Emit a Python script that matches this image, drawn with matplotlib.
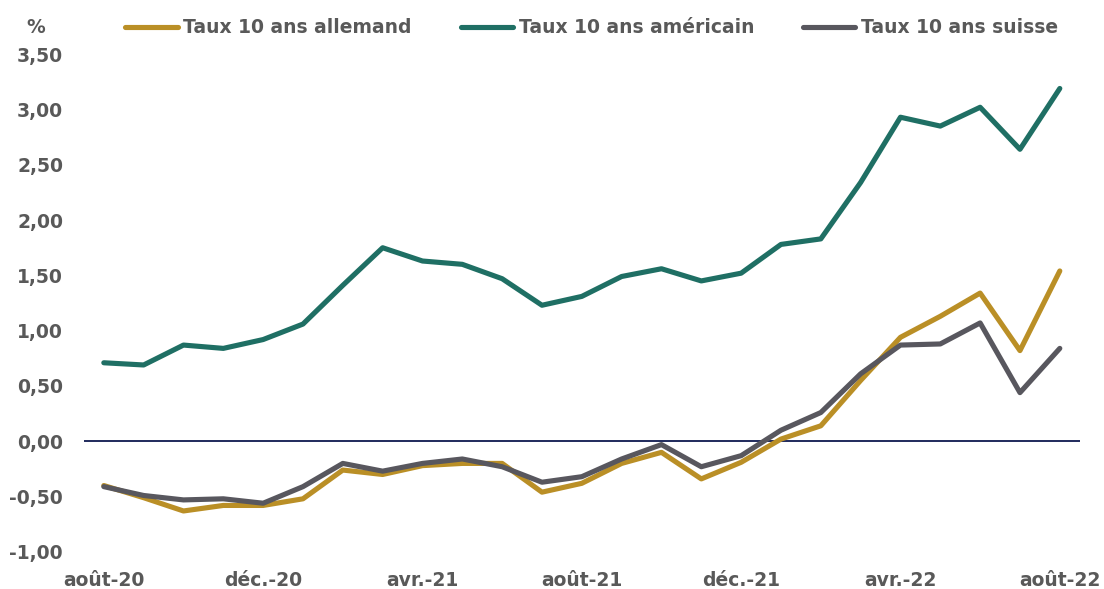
import matplotlib.pyplot as plt
from matplotlib.ticker import FuncFormatter

mois = ["août-20", "sept.-20", "oct.-20", "nov.-20", "déc.-20", "janv.-21", "févr.-21",
        "mars-21", "avr.-21", "mai-21", "juin-21", "juil.-21", "août-21", "sept.-21",
        "oct.-21", "nov.-21", "déc.-21", "janv.-22", "févr.-22", "mars-22", "avr.-22",
        "mai-22", "juin-22", "juil.-22", "août-22"]

taux_allemand = [-0.40, -0.51, -0.63, -0.58, -0.58, -0.52, -0.26, -0.30, -0.22, -0.20,
                 -0.20, -0.46, -0.38, -0.20, -0.10, -0.34, -0.19, 0.02, 0.14, 0.55,
                 0.94, 1.13, 1.34, 0.82, 1.54]
taux_americain = [0.71, 0.69, 0.87, 0.84, 0.92, 1.06, 1.41, 1.75, 1.63, 1.60,
                  1.47, 1.23, 1.31, 1.49, 1.56, 1.45, 1.52, 1.78, 1.83, 2.34,
                  2.93, 2.85, 3.02, 2.64, 3.19]
taux_suisse = [-0.41, -0.49, -0.53, -0.52, -0.56, -0.41, -0.20, -0.27, -0.20, -0.16,
               -0.23, -0.37, -0.32, -0.16, -0.03, -0.23, -0.13, 0.10, 0.26, 0.61,
               0.87, 0.88, 1.07, 0.44, 0.84]

series = [
    ("Taux 10 ans allemand", taux_allemand, "#BA8F26"),
    ("Taux 10 ans américain", taux_americain, "#1F6F64"),
    ("Taux 10 ans suisse", taux_suisse, "#58575E"),
]

plt.rcParams['font.family'] = ['DejaVu Sans']
texte = "#595959"
taille = 13.5

fig = plt.figure(figsize=(11.04, 5.89), dpi=100)
ax = fig.add_axes([0.076, 0.063, 0.902, 0.845])

x = list(range(len(mois)))
for nom, vals, coul in series:
    ax.plot(x, vals, color=coul, linewidth=3.7, label=nom, solid_capstyle='round')

ax.axhline(0, color="#1F2A5C", linewidth=1.4, zorder=1)

ax.set_xlim(-0.5, len(mois) - 0.5)
ax.set_ylim(-1.0, 3.5)
ax.set_yticks([-1.0, -0.5, 0, 0.5, 1.0, 1.5, 2.0, 2.5, 3.0, 3.5])
ax.yaxis.set_major_formatter(FuncFormatter(lambda v, p: f"{v:.2f}".replace(".", ",")))
ax.set_xticks(x[::4])
ax.set_xticklabels(mois[::4])

for s in ax.spines.values():
    s.set_visible(False)
ax.tick_params(axis='both', length=0, labelsize=taille, labelcolor=texte)
ax.tick_params(axis='y', pad=15)
ax.tick_params(axis='x', pad=14)
for lab in ax.get_xticklabels() + ax.get_yticklabels():
    lab.set_fontweight('bold')

fig.text(0.032, 0.953, "%", fontsize=taille, fontweight='bold', color=texte, ha='center', va='center')

fig.legend(loc='center', bbox_to_anchor=(0.536, 0.953), ncol=3, frameon=False,
           handlelength=2.8, handletextpad=0.3, columnspacing=2.6,
           prop={'size': taille, 'weight': 'bold'}, labelcolor=texte)

fig.savefig("out.png", dpi=100)
